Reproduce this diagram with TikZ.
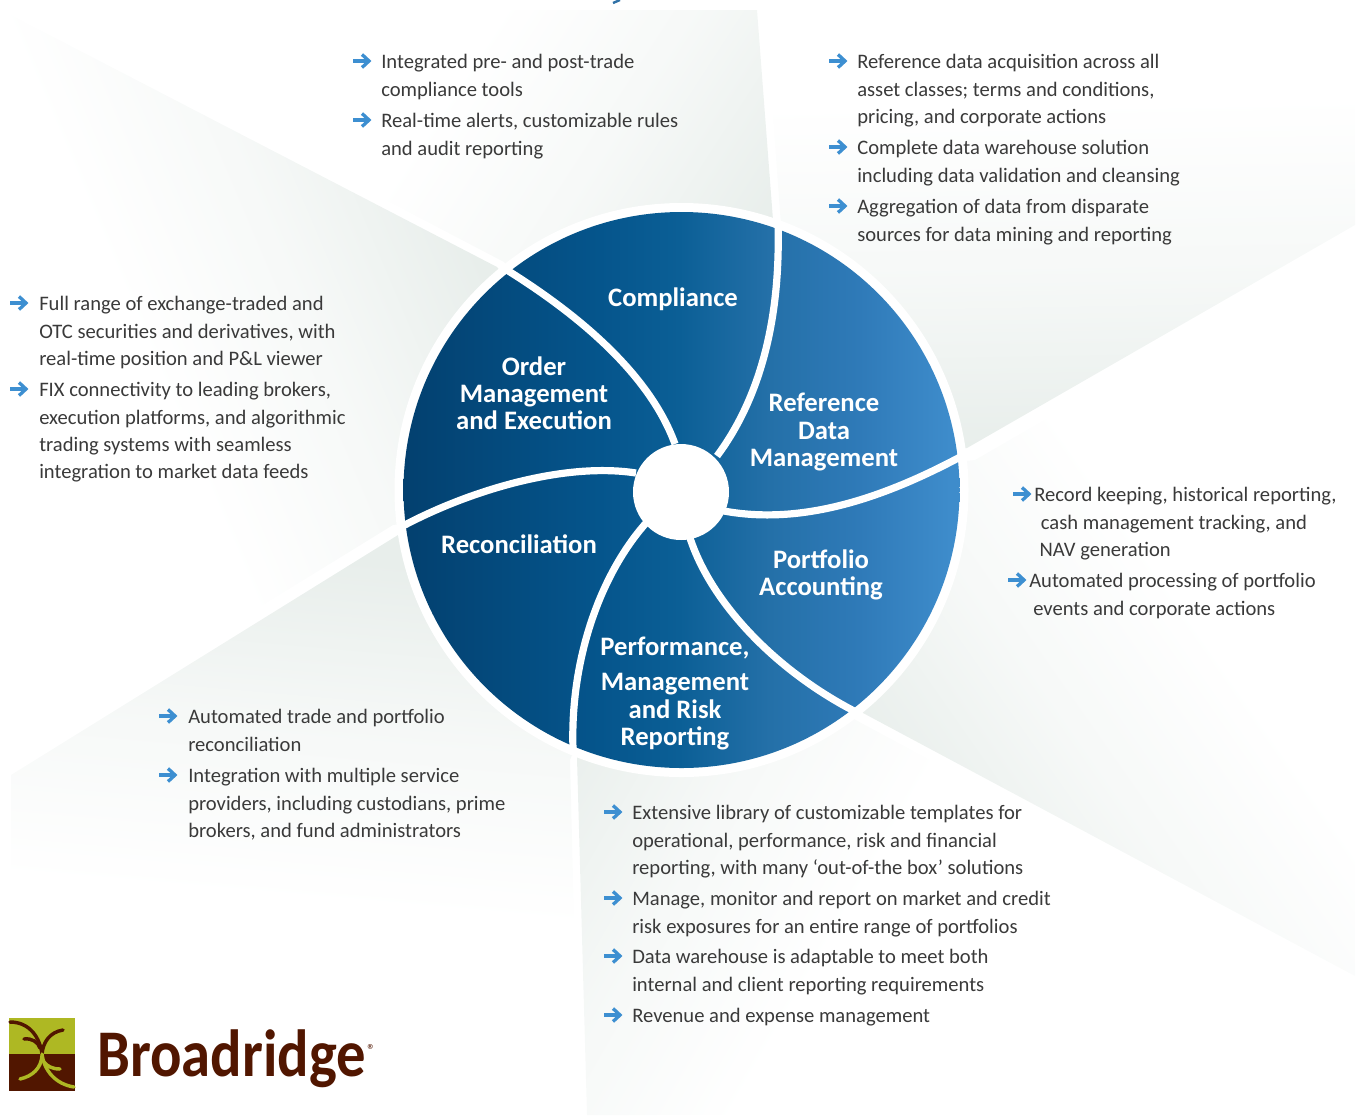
\documentclass[tikz,border=0pt]{standalone}
\usepackage{fontspec}
\setmainfont{Carlito}
\usepackage{graphicx}
\usepackage{tikz}
\usetikzlibrary{positioning}
\definecolor{wedgegrey}{HTML}{E8EEEB}
\colorlet{wedgesoft}{wedgegrey!38!white}
\definecolor{pieA}{HTML}{03406F}
\definecolor{pieB}{HTML}{05558C}
\definecolor{pieC}{HTML}{0B5F96}
\definecolor{pieD}{HTML}{2470A8}
\definecolor{pieE}{HTML}{2F7AB8}
\definecolor{pieF}{HTML}{3E8CCB}
\definecolor{tickblue}{HTML}{3D8FD1}
\definecolor{bodygrey}{HTML}{3A3A3A}
\definecolor{rootbrown}{HTML}{511600}
\definecolor{leafolive}{HTML}{AEB823}
\pgfdeclarehorizontalshading{wedgefade}{100bp}{color(0bp)=(white); color(50bp)=(white); color(56.2bp)=(wedgesoft); color(62.4bp)=(wedgegrey); color(100bp)=(wedgegrey)}
\pgfdeclarehorizontalshading{piefade}{100bp}{color(0bp)=(pieA); color(25bp)=(pieA); color(42.6bp)=(pieB); color(49.8bp)=(pieC); color(57.9bp)=(pieD); color(66bp)=(pieE); color(74.1bp)=(pieF); color(100bp)=(pieF)}
\tikzset{
  bulletitem/.style = {anchor=north west, align=left, inner sep=0pt, yshift=5.25pt,
    text=bodygrey, font=\fontsize{15.45}{20.6}\selectfont},
  bulletarrow/.style = {tickblue, line width=2.5pt},
  pielabel/.style = {align=center, inner sep=0pt, text=white,
    font=\fontsize{20}{20.4}\selectfont\bfseries},
  spoke/.style = {white, line width=5.4pt},
  rootline/.style = {line width=2.6pt, line cap=round}
}
% one pale sector: #1 polygon, #2 point where the fade starts, #3 its direction
\newcommand{\wedgesector}[3]{
  \begin{scope}
    \clip #1;
    \shade[shading=wedgefade, shading angle=#3] ([shift={(-700,-700)}]#2) rectangle ([shift={(700,700)}]#2);
  \end{scope}
}

\begin{document}
\begin{tikzpicture}[x=0.75pt, y=-0.75pt]
\useasboundingbox (0,0) rectangle (1356,1115);

% background sectors
\wedgesector{(11,15) -- (497,267) -- (681,490) -- (393,525) -- (11,760) -- cycle}{100,250}{23}
\wedgesector{(22,10) -- (757,10) -- (773,220) -- (681,490) -- (504,262) -- cycle}{377,197}{-33}
\wedgesector{(765,10) -- (1355,10) -- (1355,225) -- (967,448) -- (681,490) -- (781,225) -- cycle}{1060,100}{-89}
\wedgesector{(975,460) -- (1355,240) -- (1355,976) -- (863,713) -- (681,490) -- cycle}{1073,440}{-145}
\wedgesector{(852,718) -- (1355,988) -- (1355,1115) -- (587,1115) -- (577,758) -- (681,490) -- cycle}{937,767}{150}
\wedgesector{(398,535) -- (681,490) -- (570,760) -- (579,1115) -- (11,1115) -- (11,775) -- cycle}{11,878}{85}

% cut-off glyph at the top edge
\draw[tickblue!80!black, line width=1.8pt] (613,3) -- (620,0);

% wheel
\fill[white] (681.5,490) circle [radius=287];
\shade[shading=piefade] (681.5,490) circle [radius=278];
\draw[spoke] (778,224) .. controls (781,330) and (755,405) .. (717,456);
\draw[spoke] (962,456) .. controls (880,500) and (800,525) .. (724,511);
\draw[spoke] (690,538) .. controls (712,605) and (778,672) .. (856,712);
\draw[spoke] (646,523) .. controls (600,575) and (570,660) .. (573,749);
\draw[spoke] (636,473) .. controls (565,462) and (470,490) .. (401,527);
\draw[spoke] (675,444) .. controls (650,375) and (580,315) .. (502,267);
\node[circle, fill=white, minimum size=72pt, inner sep=0pt] (hub) at (681,492) {};

\node[pielabel] (compliance) at (673,299.5) {Compliance};
\node[pielabel] (order) at (534,393.5) {Order\\Management\\and Execution};
\node[pielabel] (reference) at (824,432) {Reference\\Data\\Management};
\node[pielabel] (portfolio) at (821,575) {Portfolio\\Accounting};
\node[pielabel] (reconciliation) at (519,544) {Reconciliation};
\node[pielabel] (performance) at (675,693.5) {Performance,\\[6pt]Management\\and Risk\\Reporting};

% bullets
\foreach \x/\y in {353/61, 353/120, 829/61, 829/147, 829/206, 10/303, 10/389,
    1013/494, 1008/580, 159/716, 159/775, 604/812, 604/898, 604/956, 604/1015} {
  \draw[bulletarrow] (\x,\y) -- ++(15,0);
  \draw[bulletarrow] (\x,\y) ++(9,-6.5) -- ++(7,6.5) -- ++(-7,6.5);
}

\node[bulletitem] (comp1) at (381,61) {Integrated pre- and post-trade\\compliance tools};
\node[bulletitem] (comp2) at (381,120) {Real-time alerts, customizable rules\\and audit reporting};
\node[bulletitem] (ref1) at (857,61) {Reference data acquisition across all\\asset classes; terms and conditions,\\pricing, and corporate actions};
\node[bulletitem] (ref2) at (857,147) {Complete data warehouse solution\\including data validation and cleansing};
\node[bulletitem] (ref3) at (857,206) {Aggregation of data from disparate\\sources for data mining and reporting};
\node[bulletitem] (ord1) at (39,303) {Full range of exchange-traded and\\OTC securities and derivatives, with\\real-time position and P\&L viewer};
\node[bulletitem] (ord2) at (39,389) {FIX connectivity to leading brokers,\\execution platforms, and algorithmic\\trading systems with seamless\\integration to market data feeds};
\node[bulletitem] (port1) at (1034,494) {Record keeping, historical reporting,\\\hspace*{5pt}cash management tracking, and\\\hspace*{4pt}NAV generation};
\node[bulletitem] (port2) at (1029,580) {Automated processing of portfolio\\\hspace*{3pt}events and corporate actions};
\node[bulletitem] (rec1) at (188,716) {Automated trade and portfolio\\reconciliation};
\node[bulletitem] (rec2) at (188,775) {Integration with multiple service\\providers, including custodians, prime\\brokers, and fund administrators};
\node[bulletitem] (perf1) at (632,812) {Extensive library of customizable templates for\\operational, performance, risk and financial\\reporting, with many ‘out-of-the box’ solutions};
\node[bulletitem] (perf2) at (632,898) {Manage, monitor and report on market and credit\\risk exposures for an entire range of portfolios};
\node[bulletitem] (perf3) at (632,956) {Data warehouse is adaptable to meet both\\internal and client reporting requirements};
\node[bulletitem] (perf4) at (632,1015) {Revenue and expense management};

% logo
\fill[leafolive] (9,1018) rectangle (75,1054);
\fill[rootbrown] (9,1054) rectangle (75,1091);
\draw[rootline, rootbrown] (10,1022) .. controls (30,1022) and (40,1038) .. (42,1054);
\draw[rootline, rootbrown] (63,1030) .. controls (50,1032) and (43,1042) .. (42,1054);
\draw[rootline, rootbrown] (24,1039) .. controls (32,1038) and (38,1042) .. (40,1048);
\draw[rootline, leafolive] (42,1054) .. controls (44,1070) and (55,1084) .. (74,1087);
\draw[rootline, leafolive] (20,1079) .. controls (33,1076) and (41,1068) .. (42,1056);
\draw[rootline, leafolive] (60,1069) .. controls (52,1069) and (47,1066) .. (44,1062);
\node[anchor=base west, inner sep=0pt, text=rootbrown, font=\fontsize{50}{51}\selectfont\bfseries] (brand) at (97,1076) {\scalebox{0.88}[1]{Broadridge}};
\node[inner sep=0pt, text=rootbrown, font=\fontsize{12}{13}\selectfont] (mark) at (371.5,1050) {®};
\end{tikzpicture}
\end{document}
